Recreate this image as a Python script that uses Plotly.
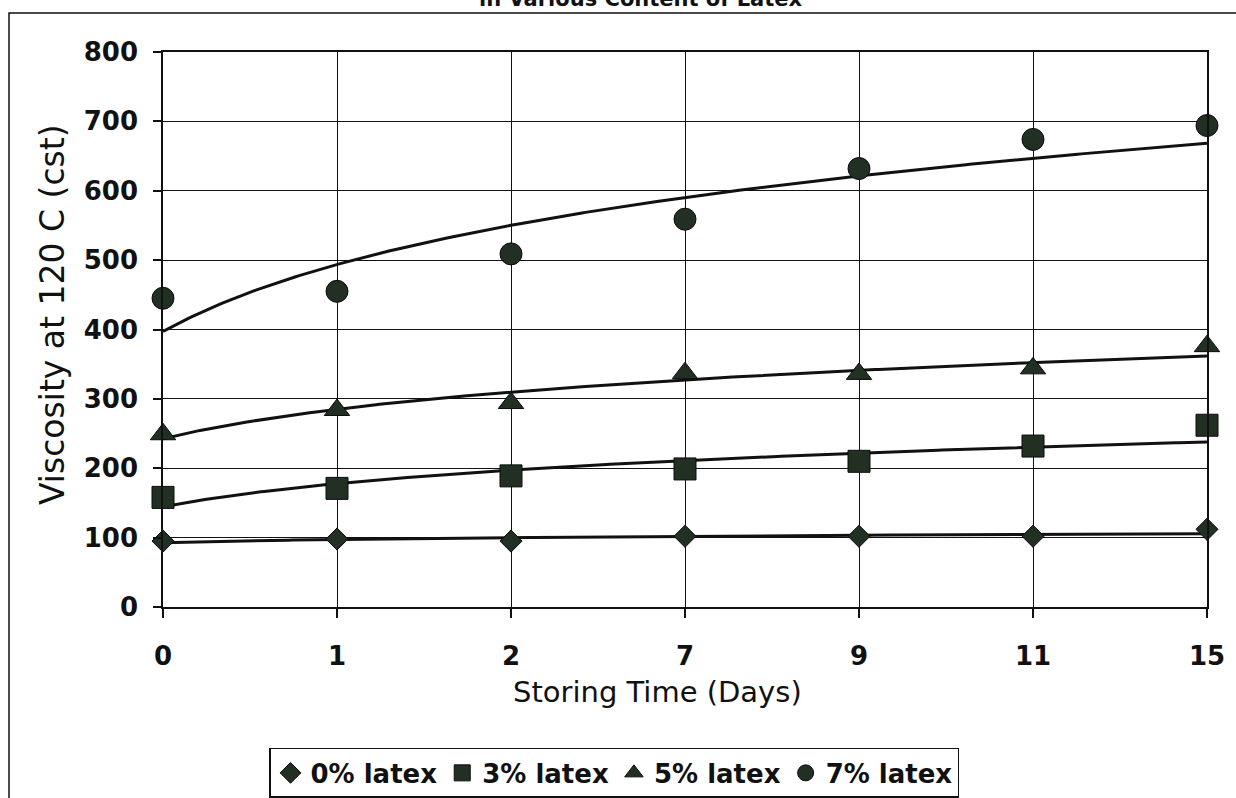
import numpy as np
import plotly.graph_objects as go

# Storing time categories (days) and viscosity readings at 120 C (cst)
days = ["0", "1", "2", "7", "9", "11", "15"]
latex_0 = [95, 98, 95, 102, 102, 102, 112]
latex_3 = [158, 171, 189, 199, 210, 232, 262]
latex_5 = [249, 284, 294, 337, 336, 344, 376]
latex_7 = [445, 455, 509, 559, 632, 674, 694]

series = [
    ("0% latex", latex_0, "diamond", 17),
    ("3% latex", latex_3, "square", 22),
    ("5% latex", latex_5, "triangle-up", 22),
    ("7% latex", latex_7, "circle", 22),
]

MARK = "#223024"
FONT = "DejaVu Sans"

pos = np.arange(len(days))
dense = np.linspace(0, len(days) - 1, 300)

fig = go.Figure()

# Logarithmic trend lines fitted on the category index (1..n)
for name, vals, sym, size in series:
    a, b = np.polyfit(np.log(pos + 1), np.asarray(vals, float), 1)
    fig.add_trace(go.Scatter(
        x=dense, y=a * np.log(dense + 1) + b, mode="lines",
        line=dict(color="#111111", width=3), showlegend=False,
        hoverinfo="skip", cliponaxis=False,
    ))

for name, vals, sym, size in series:
    fig.add_trace(go.Scatter(
        x=pos, y=vals, mode="markers", name=name, cliponaxis=False,
        marker=dict(symbol=sym, size=size, color=MARK,
                    line=dict(color="#0a0a0a", width=1)),
    ))

fig.update_layout(
    width=1236, height=798,
    margin=dict(l=163, r=29, t=52, b=191, autoexpand=False),
    paper_bgcolor="white", plot_bgcolor="white",
    font=dict(family=FONT, color="#111111"),
    showlegend=True,
    legend=dict(
        orientation="h", x=0.432, xanchor="center", y=-0.254, yanchor="top",
        bordercolor="#111111", borderwidth=1.5, bgcolor="white",
        font=dict(family=FONT, size=26, color="#111111", weight="bold"),
        itemsizing="trace",
    ),
)

fig.update_xaxes(
    range=[0, len(days) - 1], tickmode="array", tickvals=pos, ticktext=days,
    showgrid=True, gridcolor="#111111", gridwidth=1,
    showline=True, linecolor="#111111", linewidth=1.5, mirror=True,
    ticks="outside", ticklen=9, tickcolor="#111111", tickwidth=1.5,
    ticklabelstandoff=16,
    tickfont=dict(family=FONT, size=26, color="#111111", weight="bold"),
    zeroline=False,
)
fig.update_yaxes(
    range=[0, 800], dtick=100,
    showgrid=True, gridcolor="#111111", gridwidth=1,
    showline=True, linecolor="#111111", linewidth=1.5, mirror=True,
    ticks="outside", ticklen=8, tickcolor="#111111", tickwidth=1.5,
    ticklabelstandoff=10,
    tickfont=dict(family=FONT, size=26, color="#111111", weight="bold"),
    zeroline=False,
)

# Axis titles and the (partly cropped) chart title
fig.add_annotation(
    text="Storing Time (Days)", xref="paper", yref="paper",
    x=(657 - 163) / 1044, y=(607 - 692) / 555, xanchor="center", yanchor="middle",
    showarrow=False, font=dict(family=FONT, size=29, color="#111111"),
)
fig.add_annotation(
    text="Viscosity at 120 C (cst)", xref="paper", yref="paper",
    x=(52 - 163) / 1044, y=(607 - 315) / 555, xanchor="center", yanchor="middle",
    textangle=-90, showarrow=False, font=dict(family=FONT, size=33, color="#111111"),
)
fig.add_annotation(
    text="in Various Content of Latex", xref="paper", yref="paper",
    x=(641 - 163) / 1044, y=(607 - 13) / 555, xanchor="center", yanchor="bottom",
    showarrow=False, font=dict(family=FONT, size=21, color="#111111", weight="bold"),
)

# Outer chart-area frame
fig.add_shape(
    type="rect", xref="paper", yref="paper",
    x0=(9 - 163) / 1044, x1=1.2, y0=-0.6, y1=(607 - 13) / 555,
    line=dict(color="#111111", width=1.5), fillcolor="rgba(0,0,0,0)", layer="below",
)

fig.write_html("out.html")
